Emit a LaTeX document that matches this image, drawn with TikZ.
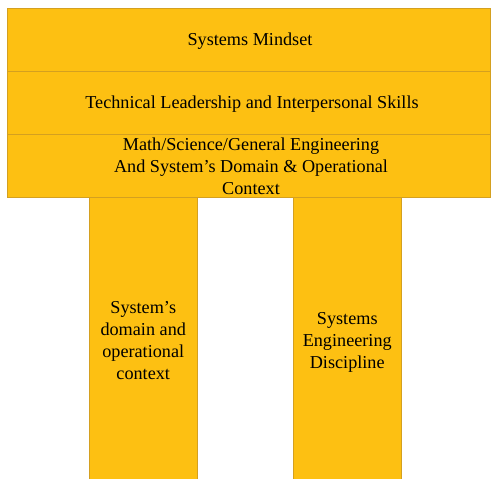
\documentclass[tikz,border=0pt]{standalone}
\usepackage{fontspec}
\setmainfont{Liberation Serif}
\definecolor{gold}{RGB}{253,192,18}
\definecolor{goldedge}{RGB}{212,160,32}
\begin{document}
\begin{tikzpicture}[x=1pt,y=-1pt,
  band/.style={draw=goldedge,fill=gold,line width=0.8pt},
  lbl/.style={font=\fontsize{18.2}{22}\selectfont,align=center,text=black,inner sep=0pt}]
\useasboundingbox (0,0) rectangle (491,479);
% pillars
\draw[band] (89,197) rectangle (197.5,480);
\draw[band] (293.5,197) rectangle (401,480);
% top rows
\draw[band] (7,8) rectangle (490,71);
\draw[band] (7,71) rectangle (490,134);
\draw[band] (7,134) rectangle (490,197);
\node[lbl] (mind) at (250,41.5) {Systems Mindset};
\node[lbl] (lead) at (252,104) {Technical Leadership and Interpersonal Skills};
\node[lbl] (math) at (251,166.5) {Math/Science/General Engineering\\And System’s Domain \& Operational\\Context};
\node[lbl] (dom) at (143.25,341) {System’s\\domain and\\operational\\context};
\node[lbl] (sed) at (347.25,342) {Systems\\Engineering\\Discipline};
\end{tikzpicture}
\end{document}
